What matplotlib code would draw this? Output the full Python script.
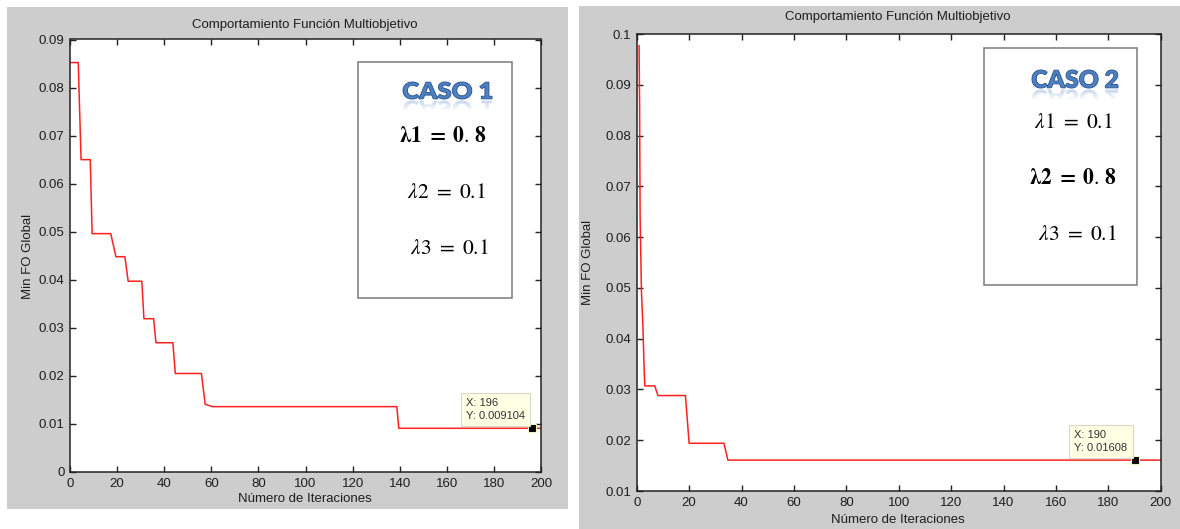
import numpy as np
import matplotlib
matplotlib.use('Agg')
import matplotlib.pyplot as plt
from matplotlib.patches import Rectangle, PathPatch
from matplotlib.textpath import TextPath
from matplotlib.font_manager import FontProperties
from matplotlib.transforms import Affine2D

plt.rcParams['font.family'] = ['Liberation Sans', 'DejaVu Sans']
plt.rcParams['mathtext.fontset'] = 'stix'

# caso 1 (lambda1 = 0.8)
iter1 = [0, 3.5, 4.7, 8.6, 9.4, 17.3, 19.5, 23.3, 24.7, 30.5, 31.4, 35.5, 36.5,
         43.7, 44.7, 55.8, 57.4, 60.5, 138.8, 139.6, 200]
fo1 = [0.0852, 0.0852, 0.065, 0.065, 0.0496, 0.0496, 0.0448, 0.0448, 0.0397, 0.0397,
       0.0319, 0.0319, 0.0269, 0.0269, 0.0205, 0.0205, 0.0141, 0.0136, 0.0136,
       0.0091, 0.0091]
tip1 = (196, 0.009104)

# caso 2 (lambda2 = 0.8)
iter2 = [0.9, 1.1, 1.3, 1.8, 2.4, 2.8, 3.1, 6.9, 8.1, 18.6, 20.0, 33.3, 34.8, 200]
fo2 = [0.0977, 0.0865, 0.064, 0.0495, 0.042, 0.0345, 0.0307, 0.0307, 0.0288,
       0.0288, 0.0194, 0.0194, 0.01608, 0.01608]
tip2 = (190, 0.01608)

xticks = np.arange(0, 201, 20)
yticks1 = [0, 0.01, 0.02, 0.03, 0.04, 0.05, 0.06, 0.07, 0.08, 0.09]
ylabels1 = ['0', '0.01', '0.02', '0.03', '0.04', '0.05', '0.06', '0.07', '0.08', '0.09']
yticks2 = [0.01, 0.02, 0.03, 0.04, 0.05, 0.06, 0.07, 0.08, 0.09, 0.1]
ylabels2 = ['0.01', '0.02', '0.03', '0.04', '0.05', '0.06', '0.07', '0.08', '0.09', '0.1']

W, H = 1180, 529
GRAY = '#cdcdcd'
TXT = '#1e1e1e'

fig = plt.figure(figsize=(W / 100, H / 100), dpi=100)
fig.patch.set_facecolor('white')

# fondo gris de cada figura matlab (en pixeles)
bg = fig.add_axes([0, 0, 1, 1], zorder=-5)
bg.set_xlim(0, W)
bg.set_ylim(H, 0)
bg.axis('off')
bg.add_patch(Rectangle((7, 7), 561, 502, fc=GRAY, ec='none'))
bg.add_patch(Rectangle((579, 6), 601, 523, fc=GRAY, ec='none'))


def px_axes(x0, y0, x1, y1):
    return fig.add_axes([x0 / W, 1 - y1 / H, (x1 - x0) / W, (y1 - y0) / H])


def style_axes(ax, yticks, ylabels, ylim):
    ax.set_facecolor('white')
    ax.set_xlim(0, 200)
    ax.set_ylim(*ylim)
    ax.set_xticks(xticks)
    ax.set_xticklabels([str(t) for t in xticks])
    ax.set_yticks(yticks)
    ax.set_yticklabels(ylabels)
    ax.tick_params(direction='in', length=4, width=1, top=True, right=True,
                   labelsize=9.5, labelcolor=TXT, color='#222222', pad=4)
    for s in ax.spines.values():
        s.set_color('#222222')
        s.set_linewidth(1.1)


def data_tip(ax, pt):
    ax.plot([pt[0]], [pt[1]], marker='s', ms=6, mfc='black', mec='#f4f0c0',
            mew=0.8, zorder=5)
    ax.annotate(f'X: {pt[0]}\nY: {pt[1]:g}', xy=pt, xytext=(-7, 7),
                textcoords='offset pixels', ha='right', va='bottom',
                multialignment='left', fontsize=8, color='#333333', linespacing=1.35,
                bbox=dict(boxstyle='square,pad=0.45', fc='#ffffe4', ec='#d8d8c8', lw=0.8),
                zorder=6)


ax1 = px_axes(70, 39.5, 541, 472)
style_axes(ax1, yticks1, ylabels1, (0, 0.09))
ax1.plot(iter1, fo1, color='#ff2020', lw=1.1)
data_tip(ax1, tip1)

ax2 = px_axes(636.7, 34, 1160.8, 491)
style_axes(ax2, yticks2, ylabels2, (0.01, 0.1))
ax2.plot(iter2, fo2, color='#ff2020', lw=1.1)
data_tip(ax2, tip2)

# capa superior en pixeles para titulos, etiquetas y cuadros de texto
ov = fig.add_axes([0, 0, 1, 1], zorder=10)
ov.set_xlim(0, W)
ov.set_ylim(H, 0)
ov.set_autoscale_on(False)
ov.axis('off')
ov.patch.set_alpha(0)

lab = dict(fontsize=9.5, color=TXT, ha='center', va='center')
ov.text(305, 25, 'Comportamiento Función Multiobjetivo', **lab)
ov.text(305, 499, 'Número de Iteraciones', **lab)
ov.text(28, 256, 'Min FO Global', rotation=90, **lab)
ov.text(898, 17, 'Comportamiento Función Multiobjetivo', **lab)
ov.text(898, 520, 'Número de Iteraciones', **lab)
ov.text(588, 262, 'Min FO Global', rotation=90, **lab)


def word_art(text, x0, x1, ytop, ybase):
    tp = TextPath((0, 0), text, size=100, prop=FontProperties(family='Lato', weight='heavy'))
    ext = tp.get_extents()
    sx = (x1 - x0) / ext.width
    sy = (ybase - ytop) / ext.height
    tr = Affine2D().translate(-ext.x0, -ext.y0).scale(sx, -sy).translate(x0, ybase)
    ov.add_patch(PathPatch(tr.transform_path(tp), fc='#4f80c2', ec='#2f5a96', lw=0.7, zorder=3))
    gap = 1.5
    rf = Affine2D().translate(-ext.x0, -ext.y0).scale(sx, sy).translate(x0, ybase + gap)
    ov.add_patch(PathPatch(rf.transform_path(tp), fc='#7aa0d4', ec='none', alpha=0.6, zorder=3))
    n = 64
    grad = np.ones((n, 1, 4))
    grad[:, 0, 3] = np.clip(np.linspace(0.25, 1.6, n), 0, 1)
    ov.imshow(grad, extent=(x0 - 3, x1 + 3, ybase + gap + (ybase - ytop) + 2, ybase + gap),
              aspect='auto', interpolation='bilinear', zorder=4)


def lambda_box(x0, y0, x1, y1, caso, art, lines):
    ov.add_patch(Rectangle((x0, y0), x1 - x0, y1 - y0, fc='white', ec='#7a7a7a', lw=1.1, zorder=2))
    word_art(caso, *art)
    for xr, yc, s in lines:
        ov.text(xr, yc, s, fontsize=15.5, color='black', ha='right', va='center', zorder=5)


lambda_box(358, 62, 512, 298, 'CASO 1', (403, 492, 82, 99),
           [(487, 137, r'$\boldsymbol{\lambda 1\ =\ 0.\,8}$'),
            (486, 193, r'$\lambda 2\ =\ 0.1$'),
            (489, 249, r'$\lambda 3\ =\ 0.1$')])
lambda_box(984, 48, 1137, 285, 'CASO 2', (1032, 1118, 70, 88),
           [(1113, 123, r'$\lambda 1\ =\ 0.1$'),
            (1117, 179, r'$\boldsymbol{\lambda 2\ =\ 0.\,8}$'),
            (1117, 235, r'$\lambda 3\ =\ 0.1$')])

ov.set_xlim(0, W)
ov.set_ylim(H, 0)

fig.savefig('out.png', dpi=100)
